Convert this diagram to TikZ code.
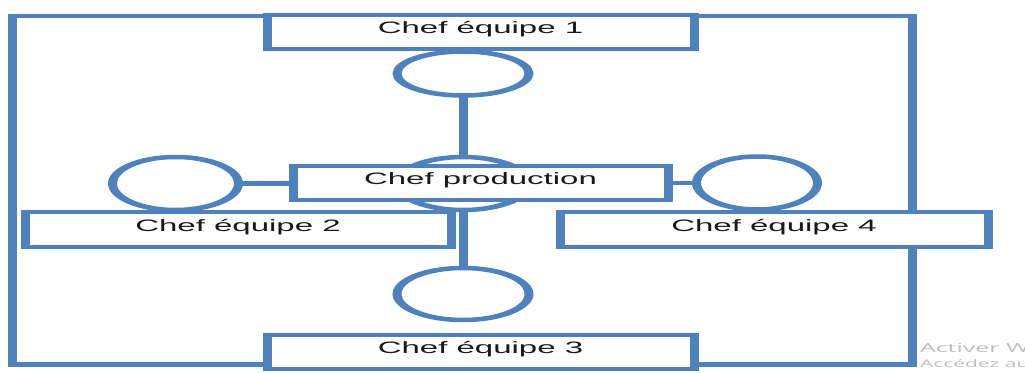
\documentclass[tikz,border=0pt]{standalone}
\usepackage{fontspec}
\setmainfont{Liberation Sans}
\newfontfamily\wmfont{Open Sans}
\usetikzlibrary{shapes.geometric}
\definecolor{orgblue}{RGB}{79,129,189}
\definecolor{inktext}{RGB}{25,25,25}
\definecolor{wmgray}{RGB}{190,190,190}

\begin{document}
\begin{tikzpicture}[
  every node/.style={inner sep=0pt, outer sep=0pt},
  rolebox/.style={rectangle, draw=orgblue, fill=white, line width=4.5pt,
    minimum height=34pt, text height=10pt, text depth=7pt,
    font=\fontsize{16.5}{18}\selectfont, text=inktext},
  bubble/.style={ellipse, draw=orgblue, fill=white, line width=4.5pt},
  link/.style={draw=orgblue, line width=4.5pt},
  frame/.style={draw=orgblue, line width=4.5pt},
  watermark/.style={anchor=base west, text=wmgray}
]
\useasboundingbox (0,0) rectangle (1025pt,-372pt);
% the chart is laid out on a half-width grid and stretched twice as wide
\begin{scope}[x=0.5pt, y=-1pt, transform canvas={xscale=2}]
  \clip (0,0) rectangle (1025,372);

  % outer frame
  \coordinate (frameNW) at (12.5,16);
  \coordinate (frameSE) at (912,364.5);
  \draw[frame] (frameNW) rectangle (frameSE);

  % ellipses
  \node[bubble, minimum width=66pt, minimum height=44pt] (c1) at (463,73.5) {};
  \node[bubble, minimum width=66pt, minimum height=53pt] (cc) at (463,183.5) {};
  \node[bubble, minimum width=63pt, minimum height=53pt] (c2) at (175.5,183.5) {};
  \node[bubble, minimum width=60.5pt, minimum height=53pt] (c4) at (757,183) {};
  \node[bubble, minimum width=66pt, minimum height=52pt] (c3) at (463,294) {};

  % role boxes
  \node[rolebox, minimum width=213.5pt] (e1) at (480.5,32) {Chef équipe 1};
  \node[rolebox, minimum width=187.5pt] (prod) at (480.5,183) {Chef production};
  \node[rolebox, minimum width=213pt, minimum height=35pt] (e2) at (238,229.5) {Chef équipe 2};
  \node[rolebox, minimum width=214pt, minimum height=35pt] (e4) at (774,229.5) {Chef équipe 4};
  \node[rolebox, minimum width=213.5pt] (e3) at (480.5,352) {Chef équipe 3};

  % connectors
  \draw[link] (c1.south) -- (cc.north);
  \draw[link] (cc.south) -- (c3.north);
  \draw[link] (c2.east) -- (c2.east -| prod.west);
  \draw[link] (prod.east) -- (prod.east -| c4.west);

  % system notice in the corner
  \node[watermark, font=\wmfont\fontsize{12.5}{14}\selectfont] (wm1) at (920,352) {Activer Windows};
  \node[watermark, font=\wmfont\fontsize{10.5}{12}\selectfont] (wm2) at (920,367) {Accédez aux paramètres pour activer Windows.};
\end{scope}
\end{tikzpicture}
\end{document}
